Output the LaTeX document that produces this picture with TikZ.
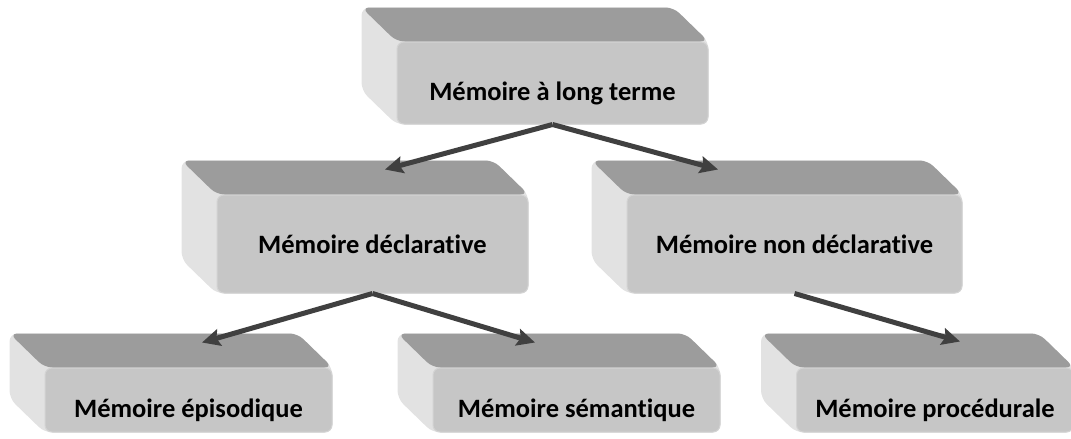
\documentclass[tikz,border=0pt]{standalone}
\usepackage{fontspec}
\setmainfont{Carlito}[Ligatures={TeX,NoCommon}]
\usetikzlibrary{positioning, calc, arrows.meta, backgrounds}

\definecolor{topgray}{HTML}{9C9C9C}
\definecolor{sidegray}{HTML}{E2E2E2}
\definecolor{frontgray}{HTML}{C6C6C6}
\definecolor{edgegray}{HTML}{D3D3D3}
\definecolor{arrowgray}{HTML}{404040}

\tikzset{
    front/.style={rectangle, rounded corners=7pt, fill=frontgray, draw=edgegray, line width=1pt, inner sep=0pt},
    topface/.style={fill=topgray, rounded corners=8pt},
    sideface/.style={fill=sidegray, rounded corners=8pt},
    boxtext/.style={anchor=base, font=\bfseries\fontsize{26.5}{30}\selectfont},
    link/.style={draw=arrowgray, line width=5pt, -{Stealth[length=18pt, width=17pt, inset=3pt]}}
}

\begin{document}
\begin{tikzpicture}[x=1pt, y=-1pt, on grid]
    \useasboundingbox (0,0) rectangle (1071,439);

    \node[front, minimum width=311pt, minimum height=82pt] (top) at (552.5,83) {};
    \node[front, minimum width=311pt, minimum height=98pt] (decl) [below left=161pt and 180pt of top] {};
    \node[front, minimum width=335pt, minimum height=98pt] (nondecl) [below right=161pt and 242pt of top] {};
    \node[front, minimum width=287pt, minimum height=64pt] (epi) [below left=156pt and 184pt of decl] {};
    \node[front, minimum width=287pt, minimum height=64pt] (sem) [below right=156pt and 204pt of decl] {};
    \node[front, minimum width=277pt, minimum height=64pt] (proc) [below right=156pt and 140.5pt of nondecl] {};

    % extruded faces behind each box
    \begin{scope}[on background layer]
        \foreach \b in {top, decl, nondecl, epi, sem, proc} {
            \fill[sideface] ($(\b.north west)+(-35,-34)$) -- ($(\b.north east)+(-35,-34)$) -- (\b.north east)
                -- (\b.south east) -- (\b.south west) -- ($(\b.south west)+(-35,-34)$) -- cycle;
            \fill[topface] ($(\b.north west)+(-35,-34)$) -- ($(\b.north east)+(-35,-34)$)
                -- (\b.north east) -- (\b.north west) -- cycle;
        }
    \end{scope}

    \node[boxtext] (top-txt) at ($(top.center)+(0,17)$) {Mémoire à long terme};
    \node[boxtext] (decl-txt) at ($(decl.center)+(0,9)$) {Mémoire déclarative};
    \node[boxtext] (nondecl-txt) at ($(nondecl.center)+(0,9)$) {Mémoire non déclarative};
    \node[boxtext] (epi-txt) at ($(epi.center)+(0,17)$) {Mémoire épisodique};
    \node[boxtext] (sem-txt) at ($(sem.center)+(0,17)$) {Mémoire sémantique};
    \node[boxtext] (proc-txt) at ($(proc.center)+(0,17)$) {Mémoire procédurale};

    \coordinate (decl-in) at ($(decl.north)+(12.5,-25)$);
    \coordinate (nondecl-in) at ($(nondecl.north)+(-76.5,-25)$);
    \coordinate (epi-in) at ($(epi.north)+(13.5,-25)$);
    \coordinate (sem-in) at ($(sem.north)+(-41.5,-25)$);
    \coordinate (proc-in) at ($(proc.north)+(25,-26)$);

    \path
        (top.south) edge[link] (decl-in)
        (top.south) edge[link] (nondecl-in)
        (decl.south) edge[link] (epi-in)
        (decl.south) edge[link] (sem-in)
        (nondecl.south) edge[link] (proc-in);
\end{tikzpicture}
\end{document}
